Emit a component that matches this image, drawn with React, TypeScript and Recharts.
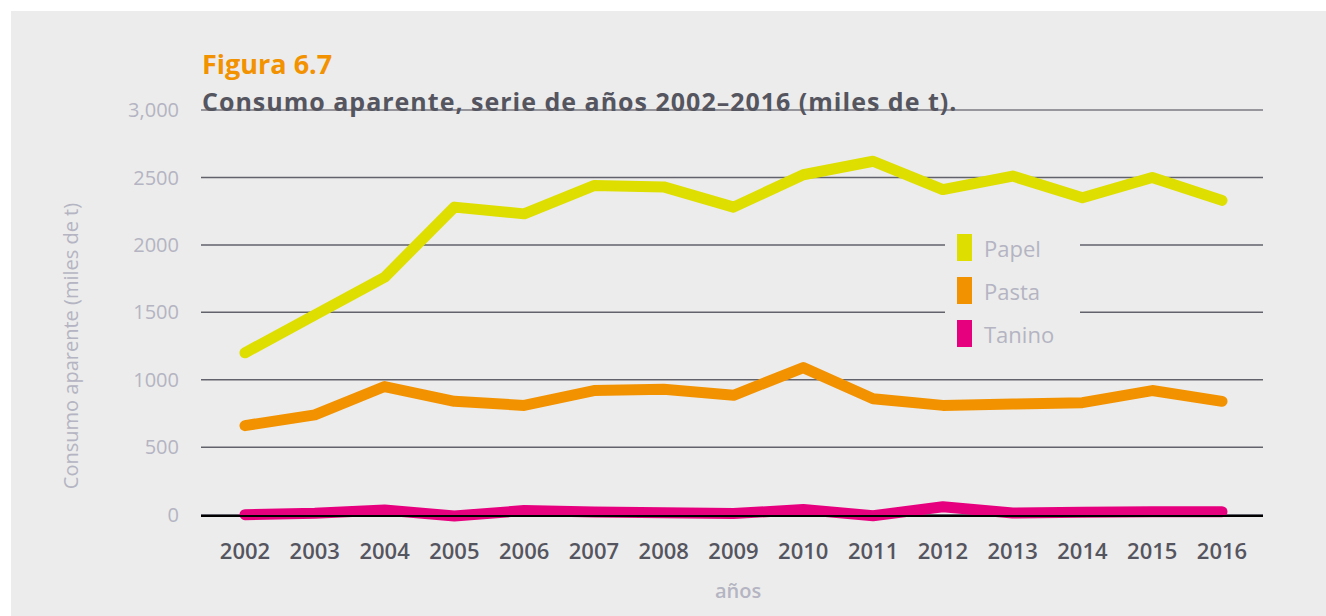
import React from "react";
import { LineChart, Line, XAxis, YAxis, CartesianGrid, Legend } from "recharts";

const years = [
  "2002", "2003", "2004", "2005", "2006", "2007", "2008", "2009",
  "2010", "2011", "2012", "2013", "2014", "2015", "2016",
];
const papel = [1200, 1480, 1760, 2280, 2230, 2440, 2430, 2280, 2520, 2620, 2410, 2510, 2350, 2500, 2330];
const pasta = [660, 740, 950, 840, 810, 920, 930, 885, 1090, 860, 810, 820, 830, 920, 840];
const tanino = [0, 10, 35, -10, 30, 20, 15, 8, 38, -8, 58, 12, 18, 22, 22];

const yTicks = [0, 500, 1000, 1500, 2000, 2500, 3000];
const yTickLabels = ["0", "500", "1000", "1500", "2000", "2500", "3,000"];

const series = [
  { key: "papel", name: "Papel", color: "#dede00" },
  { key: "pasta", name: "Pasta", color: "#f39200" },
  { key: "tanino", name: "Tanino", color: "#e6007e" },
];

const FONT = '"Open Sans", "Noto Sans", sans-serif';
const PALE = "#b4b4c2";
const DARK = "#55555f";

const data = years.map((year, i) => ({
  year,
  papel: papel[i],
  pasta: pasta[i],
  tanino: tanino[i],
}));

function LegendBox() {
  return (
    <div style={{ background: "#ececec", width: 135, height: 136, boxSizing: "border-box", paddingTop: 4, paddingLeft: 12 }}>
      {series.map((s) => (
        <div key={s.key} style={{ display: "flex", alignItems: "center", height: 43 }}>
          <span style={{ width: 15, height: 27, background: s.color, display: "inline-block" }} />
          <span style={{ marginLeft: 12, fontSize: 22, color: PALE, fontFamily: FONT }}>{s.name}</span>
        </div>
      ))}
    </div>
  );
}

function gridLine(props: any) {
  const top = props.index === yTicks.length - 1;
  return (
    <line
      key={props.key}
      x1={props.x1}
      x2={props.x2}
      y1={props.y1}
      y2={props.y2}
      stroke={top ? "#96969c" : "#62626c"}
      strokeWidth={top ? 2 : 1.5}
    />
  );
}

export default function App() {
  return (
    <div
      style={{
        position: "absolute",
        left: 11,
        top: 11,
        width: 1315,
        height: 605,
        background: "#ececec",
        fontFamily: FONT,
        overflow: "hidden",
      }}
    >
      <LineChart width={1315} height={605} data={data} margin={{ top: 99, right: 63, left: 130, bottom: 60 }}>
        <CartesianGrid horizontal={gridLine} vertical={false} />
        <XAxis
          dataKey="year"
          padding={{ left: 44, right: 41 }}
          height={40}
          tickLine={false}
          tickMargin={21}
          axisLine={{ stroke: "#000", strokeWidth: 2 }}
          tick={{ fontSize: 22, fill: DARK, fontFamily: FONT, fontWeight: 600 }}
          interval={0}
        />
        <YAxis
          width={60}
          domain={[0, 3000]}
          ticks={yTicks}
          tickFormatter={(v) => yTickLabels[yTicks.indexOf(v)] ?? String(v)}
          axisLine={false}
          tickLine={false}
          tickMargin={16}
          tick={{ fontSize: 20, fill: PALE, fontFamily: FONT }}
        />
        <Legend
          layout="vertical"
          align="center"
          verticalAlign="middle"
          content={() => <LegendBox />}
          wrapperStyle={{ left: 934, top: 211, width: 135, height: 136 }}
        />
        {series.map((s) => (
          <Line
            key={s.key}
            type="linear"
            dataKey={s.key}
            name={s.name}
            stroke={s.color}
            strokeWidth={11}
            strokeLinecap="round"
            strokeLinejoin="round"
            dot={false}
            activeDot={false}
            isAnimationActive={false}
          />
        ))}
      </LineChart>

      <div style={{ position: "absolute", left: 191, top: 36, fontSize: 27, fontWeight: 700, color: "#f39200", lineHeight: "34px" }}>
        Figura 6.7
      </div>
      <div
        style={{
          position: "absolute",
          left: 191,
          top: 74,
          fontSize: 25,
          fontWeight: 700,
          letterSpacing: 1,
          color: DARK,
          lineHeight: "32px",
          whiteSpace: "nowrap",
        }}
      >
        Consumo aparente, serie de años 2002–2016 (miles de t).
      </div>
      <div
        style={{
          position: "absolute",
          left: 59,
          top: 335,
          transform: "translate(-50%, -50%) rotate(-90deg)",
          fontSize: 20,
          color: PALE,
          whiteSpace: "nowrap",
        }}
      >
        Consumo aparente (miles de t)
      </div>
      <div
        style={{
          position: "absolute",
          left: 727,
          top: 579,
          transform: "translate(-50%, -50%)",
          fontSize: 20,
          fontWeight: 600,
          color: PALE,
        }}
      >
        años
      </div>
    </div>
  );
}
